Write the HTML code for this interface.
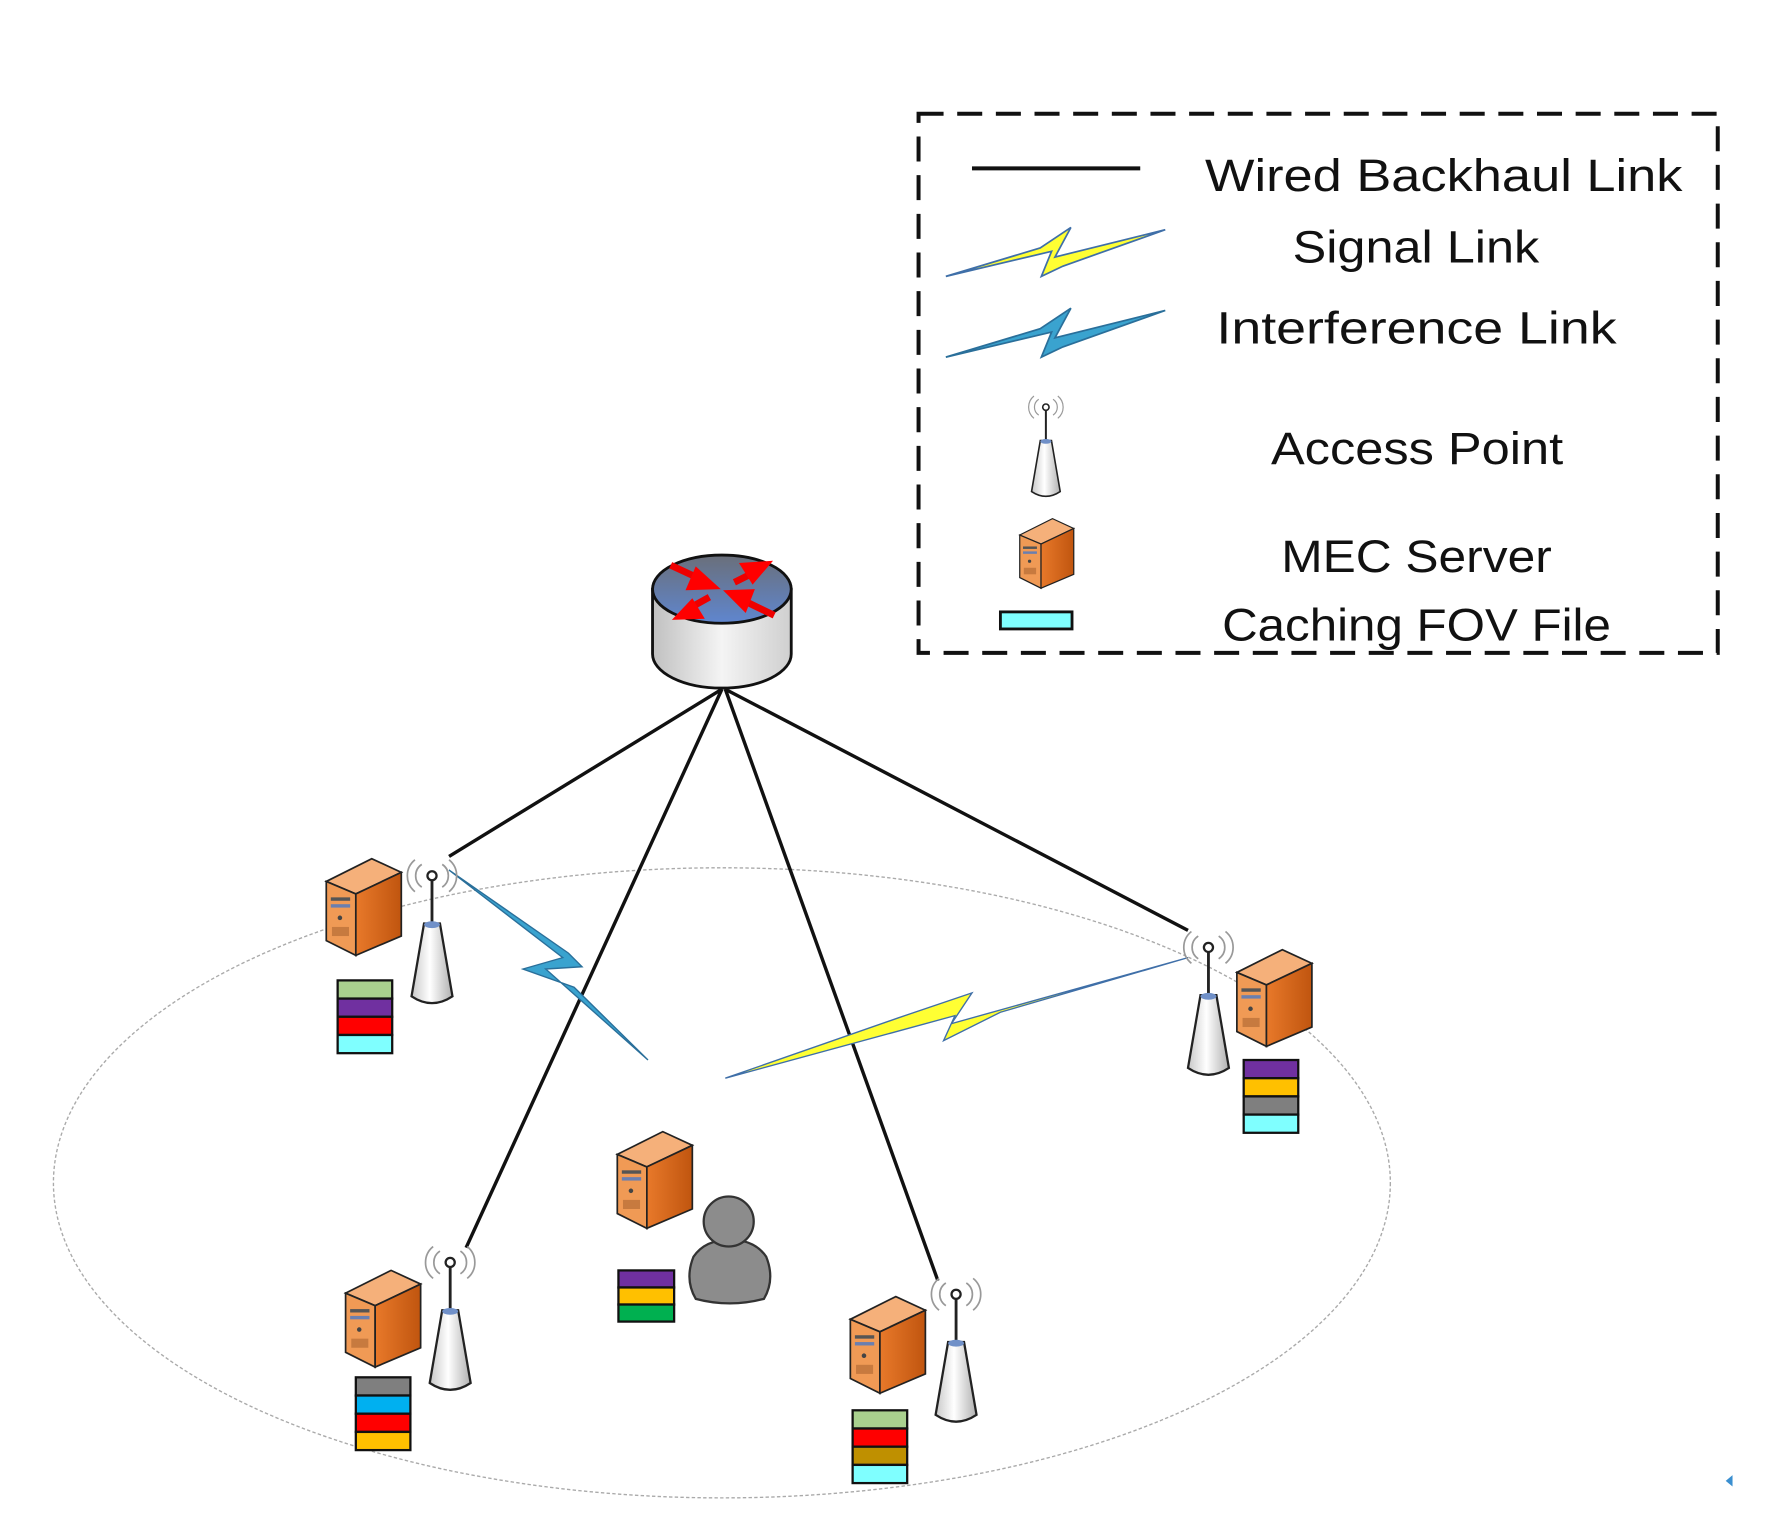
<!DOCTYPE html>
<html><head><meta charset="utf-8"><style>html,body{margin:0;padding:0;background:#fff}svg{display:block}</style></head>
<body>
<svg width="1778" height="1532" viewBox="0 0 1564 1347" preserveAspectRatio="none" xmlns="http://www.w3.org/2000/svg">
<defs>
<linearGradient id="srvR" x1="0" x2="1" y1="0" y2="0"><stop offset="0" stop-color="#e8792a"/><stop offset="1" stop-color="#c0550f"/></linearGradient>
<linearGradient id="cone" x1="0" x2="1"><stop offset="0" stop-color="#c8c8c8"/><stop offset="0.45" stop-color="#ffffff"/><stop offset="1" stop-color="#b0b0b0"/></linearGradient>
<linearGradient id="rtop" x1="0" x2="0" y1="0" y2="1"><stop offset="0" stop-color="#6a6f7a"/><stop offset="1" stop-color="#5f86cf"/></linearGradient>
<linearGradient id="rbody" x1="0" x2="1"><stop offset="0" stop-color="#c0c0c0"/><stop offset="0.5" stop-color="#f4f4f4"/><stop offset="1" stop-color="#cfcfcf"/></linearGradient>
<g id="srv">
<polygon points="0,20 40,0 66,12 26,31" fill="#f5b07a" stroke="#222" stroke-width="1.5"/>
<polygon points="0,20 26,31 26,85 0,72" fill="#f09a55" stroke="#222" stroke-width="1.5"/>
<polygon points="26,31 66,12 66,68 26,85" fill="url(#srvR)" stroke="#222" stroke-width="1.5"/>
<rect x="4" y="34" width="17" height="3" fill="#555"/><rect x="4" y="40" width="17" height="3" fill="#6a7fb0"/>
<circle cx="12" cy="52" r="2" fill="#444"/><rect x="5" y="60" width="15" height="8" fill="#c77a3f"/>
</g>
<g id="ap">
<path d="M-9,-10 A12,12 0 0 0 -9,10 M-15,-14 A18,18 0 0 0 -15,14 M9,-10 A12,12 0 0 1 9,10 M15,-14 A18,18 0 0 1 15,14" fill="none" stroke="#999" stroke-width="1.5"/>
<line x1="0" y1="4" x2="0" y2="42" stroke="#222" stroke-width="2.5"/>
<circle cx="0" cy="0" r="4" fill="#fff" stroke="#222" stroke-width="2"/>
<path d="M-7,42 L7,42 L18,106 Q0,118 -18,106 Z" fill="url(#cone)" stroke="#222" stroke-width="2"/>
<ellipse cx="0" cy="43" rx="7" ry="3" fill="#7090c8"/>
</g>
</defs>

<rect x="808" y="100" width="703" height="474" fill="none" stroke="#111" stroke-width="3.5" stroke-dasharray="22 12"/>
<line x1="855" y1="148" x2="1003" y2="148" stroke="#111" stroke-width="3.5"/>
<polygon points="832,243 915,218 942,200 928,226 1025,202 935,234 916,243 925,221" fill="#ffff33" stroke="#3f6fa8" stroke-width="1.5"/>
<polygon points="832,314 915,289 942,271 928,297 1025,273 935,305 916,314 925,292" fill="#3aa3cf" stroke="#2a6f9a" stroke-width="1.5"/>
<g font-family="Liberation Sans, sans-serif" font-size="40" fill="#111">
<text x="1060" y="168" textLength="420" lengthAdjust="spacingAndGlyphs">Wired Backhaul Link</text>
<text x="1137" y="231" textLength="217" lengthAdjust="spacingAndGlyphs">Signal Link</text>
<text x="1070" y="302" textLength="352" lengthAdjust="spacingAndGlyphs">Interference Link</text>
<text x="1118" y="408" textLength="257" lengthAdjust="spacingAndGlyphs">Access Point</text>
<text x="1127" y="503" textLength="238" lengthAdjust="spacingAndGlyphs">MEC Server</text>
<text x="1075" y="563" textLength="342" lengthAdjust="spacingAndGlyphs">Caching FOV File</text>
</g>
<g transform="translate(920,358) scale(0.7)"><use href="#ap"/></g>
<g transform="translate(897,456) scale(0.72)"><use href="#srv"/></g>
<rect x="880" y="538" width="63" height="15" fill="#7fffff" stroke="#111" stroke-width="2.5"/>

<ellipse cx="635" cy="1040" rx="588" ry="277" fill="none" stroke="#aaa" stroke-width="1.2" stroke-dasharray="3 2"/>

<g stroke="#111" stroke-width="3">
<line x1="635" y1="606" x2="395" y2="753"/>
<line x1="635" y1="606" x2="410" y2="1097"/>
<line x1="638" y1="606" x2="825" y2="1126"/>
<line x1="638" y1="606" x2="1045" y2="818"/>
</g>

<path d="M574,518 L574,575 A61,30 0 0 0 696,575 L696,518 Z" fill="url(#rbody)" stroke="#111" stroke-width="2.5"/>
<ellipse cx="635" cy="518" rx="61" ry="30" fill="url(#rtop)" stroke="#111" stroke-width="2.5"/>
<g stroke="#e00" stroke-width="6" fill="#f00">
<line x1="590" y1="497" x2="618" y2="510"/><polygon points="634,518 612,498 603,519" stroke="none"/>
<line x1="646" y1="512" x2="664" y2="503"/><polygon points="680,493 650,495 662,514" stroke="none"/>
<line x1="624" y1="525" x2="606" y2="535"/><polygon points="591,545 620,544 609,526" stroke="none"/>
<line x1="681" y1="541" x2="652" y2="527"/><polygon points="636,519 656,539 664,518" stroke="none"/>
</g>

<polygon points="395,765 500,838 512,850 480,852 570,932 505,868 460,852 495,842" fill="#3aa3cf" stroke="#2a6f9a" stroke-width="1.2"/>
<polygon points="638,948 790,895 855,873 837,900 1045,842 880,890 830,915 840,893" fill="#ffff33" stroke="#3f6fa8" stroke-width="1.2"/>

<use href="#srv" x="287" y="755"/>
<g transform="translate(380,770)"><use href="#ap"/></g>
<g stroke="#111" stroke-width="2"><rect x="297" y="862" width="48" height="16" fill="#a9d08e"/><rect x="297" y="878" width="48" height="16" fill="#7030a0"/><rect x="297" y="894" width="48" height="16" fill="#ff0000"/><rect x="297" y="910" width="48" height="16" fill="#7fffff"/></g>
<use href="#srv" x="1088" y="835"/>
<g transform="translate(1063,833)"><use href="#ap"/></g>
<g stroke="#111" stroke-width="2"><rect x="1094" y="932" width="48" height="16" fill="#7030a0"/><rect x="1094" y="948" width="48" height="16" fill="#ffc000"/><rect x="1094" y="964" width="48" height="16" fill="#7f7f7f"/><rect x="1094" y="980" width="48" height="16" fill="#7fffff"/></g>
<use href="#srv" x="304" y="1117"/>
<g transform="translate(396,1110)"><use href="#ap"/></g>
<g stroke="#111" stroke-width="2"><rect x="313" y="1211" width="48" height="16" fill="#7f7f7f"/><rect x="313" y="1227" width="48" height="16" fill="#00b0f0"/><rect x="313" y="1243" width="48" height="16" fill="#ff0000"/><rect x="313" y="1259" width="48" height="16" fill="#ffc000"/></g>
<use href="#srv" x="748" y="1140"/>
<g transform="translate(841,1138)"><use href="#ap"/></g>
<g stroke="#111" stroke-width="2"><rect x="750" y="1240" width="48" height="16" fill="#a9d08e"/><rect x="750" y="1256" width="48" height="16" fill="#ff0000"/><rect x="750" y="1272" width="48" height="16" fill="#bf9000"/><rect x="750" y="1288" width="48" height="16" fill="#7fffff"/></g>
<use href="#srv" x="543" y="995"/>
<g stroke="#111" stroke-width="2"><rect x="544" y="1117" width="49" height="15" fill="#7030a0"/><rect x="544" y="1132" width="49" height="15" fill="#ffc000"/><rect x="544" y="1147" width="49" height="15" fill="#00b050"/></g>
<path d="M612,1142 Q602,1125 610,1105 Q620,1090 642,1090 Q664,1090 674,1105 Q682,1125 672,1142 Q642,1150 612,1142 Z" fill="#8c8c8c" stroke="#333" stroke-width="2"/>
<circle cx="641" cy="1074" r="22" fill="#8c8c8c" stroke="#333" stroke-width="2"/>
<polygon points="1524,1297 1518,1302 1524,1307" fill="#3a8fd0"/>
</svg>
</body></html>
